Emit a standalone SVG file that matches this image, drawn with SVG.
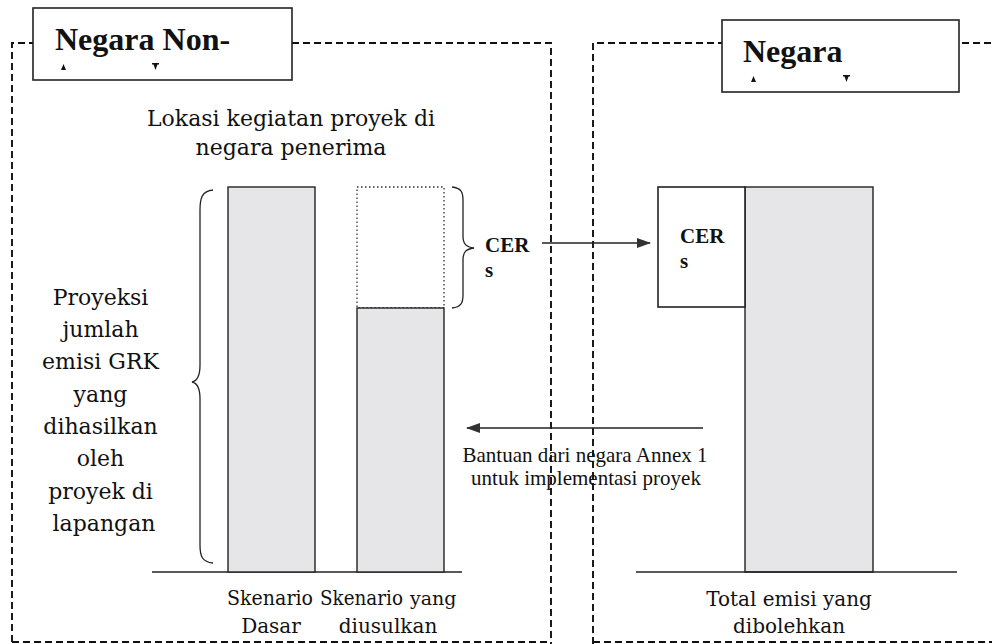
<svg xmlns="http://www.w3.org/2000/svg" width="992" height="644" viewBox="0 0 992 644">
<defs>
<style>
.dash{fill:none;stroke:#111;stroke-width:1.9;stroke-dasharray:7 4}
.box{fill:#fff;stroke:#222;stroke-width:1.6}
.bar{fill:#e6e6e8;stroke:#222;stroke-width:1.4}
.dot{fill:none;stroke:#333;stroke-width:1.3;stroke-dasharray:1.5 2.5}
.ln{fill:none;stroke:#222;stroke-width:1.4}
.brace{fill:none;stroke:#222;stroke-width:1.3}
.hdr{font-family:"Liberation Serif",serif;font-weight:bold;font-size:32px;fill:#111}
.cer{font-family:"Liberation Serif",serif;font-weight:bold;font-size:21px;fill:#111}
.cam{font-family:"DejaVu Serif","Liberation Serif",serif;fill:#111}
.tnr{font-family:"Liberation Serif",serif;font-size:21px;fill:#111}
.mk{fill:#111}
</style>
<marker id="ah" viewBox="0 0 14 10" refX="13" refY="5" markerWidth="14" markerHeight="10" markerUnits="userSpaceOnUse" orient="auto">
<path d="M0,0 L14,5 L0,10 Z" fill="#333"/>
</marker>
</defs>
<rect width="992" height="644" fill="#fff"/>

<g id="panel-left">
<path class="dash" d="M12,642 L12,43 L33,43"/>
<path class="dash" d="M292,43 L551,43 L551,644"/>
<path class="dash" d="M12,642 L551,642"/>
</g>
<g id="panel-right">
<path class="dash" d="M593,644 L593,43 L722,43"/>
<path class="dash" d="M962,43 L992,43"/>
<path class="dash" d="M593,642 L992,642"/>
</g>

<g id="header-left">
<rect class="box" x="33" y="8" width="259" height="72"/>
<text class="hdr" x="55" y="50">Negara Non-</text>
<path class="mk" d="M61,70 L63.5,64 L66,70 Z"/>
<path class="mk" d="M152,63 L159,63 L159,64.5 L157.5,64.5 L155.5,70 L153.5,64.5 L152,64.5 Z"/>
</g>
<g id="header-right">
<rect class="box" x="722" y="20" width="237" height="72"/>
<text class="hdr" x="743" y="62">Negara</text>
<path class="mk" d="M751,82 L753.5,76 L756,82 Z"/>
<path class="mk" d="M843,75 L850,75 L850,76.5 L848.5,76.5 L846.5,82 L844.5,76.5 L843,76.5 Z"/>
</g>

<g id="title">
<text class="cam" font-size="22" text-anchor="middle" x="291" y="126">Lokasi kegiatan proyek di</text>
<text class="cam" font-size="22" text-anchor="middle" x="291" y="155">negara penerima</text>
</g>

<g id="label-projection">
<text class="cam" font-size="22" text-anchor="middle" x="104">
<tspan x="104" y="305">Proyeksi</tspan>
<tspan x="104" y="337">jumlah</tspan>
<tspan x="104" y="369">emisi GRK</tspan>
<tspan x="104" y="402">yang</tspan>
<tspan x="104" y="434">dihasilkan</tspan>
<tspan x="104" y="466">oleh</tspan>
<tspan x="104" y="499">proyek di</tspan>
<tspan x="104" y="531">lapangan</tspan>
</text>
<path class="brace" d="M213,190 C202,191 200,198 200,210 L200,365 C200,376 197,381 192,382 C197,383 200,388 200,399 L200,545 C200,556 202,562 213,563"/>
</g>

<g id="axis-left">
<line class="ln" x1="152" y1="572" x2="462" y2="572"/>
</g>

<g id="bar-baseline">
<rect class="bar" x="228" y="187" width="87" height="385"/>
<text class="cam" font-size="20" x="227" y="605" textLength="86" lengthAdjust="spacingAndGlyphs">Skenario</text>
<text class="cam" font-size="20" text-anchor="middle" x="271" y="633">Dasar</text>
</g>

<g id="bar-proposed">
<rect class="dot" x="357" y="187" width="87" height="121"/>
<rect class="bar" x="357" y="308" width="87" height="264"/>
<text class="cam" font-size="20" x="320" y="605" textLength="83" lengthAdjust="spacingAndGlyphs">Skenario</text>
<text class="cam" font-size="19" x="410" y="605">yang</text>
<text class="cam" font-size="20" text-anchor="middle" x="388" y="633">diusulkan</text>
</g>

<g id="cer-left">
<path class="brace" d="M452,187 C461,188 463,192 463,200 L463,236 C463,244 466,247 474,248 C466,249 463,252 463,260 L463,295 C463,303 461,307 452,308"/>
<text class="cer" x="485" y="252">CER</text>
<text class="cer" x="485" y="277">s</text>
</g>

<g id="bar-allowed">
<rect class="bar" x="745" y="187" width="128" height="385"/>
<line class="ln" x1="636" y1="572" x2="957" y2="572"/>
<text class="cam" font-size="20" text-anchor="middle" x="789" y="606">Total emisi yang</text>
<text class="cam" font-size="20" text-anchor="middle" x="789" y="633">dibolehkan</text>
</g>

<g id="cer-right">
<rect class="box" x="658" y="187" width="87" height="120"/>
<text class="cer" x="680" y="243">CER</text>
<text class="cer" x="680" y="268">s</text>
</g>

<g id="label-bantuan">
<text class="tnr" text-anchor="middle" x="585" y="462">Bantuan dari negara Annex 1</text>
<text class="tnr" text-anchor="middle" x="586" y="485">untuk implementasi proyek</text>
</g>

<g id="connectors">
<line class="ln" x1="542" y1="243" x2="650" y2="243" marker-end="url(#ah)"/>
<line class="ln" x1="703" y1="428" x2="467" y2="428" marker-end="url(#ah)"/>
</g>
</svg>
